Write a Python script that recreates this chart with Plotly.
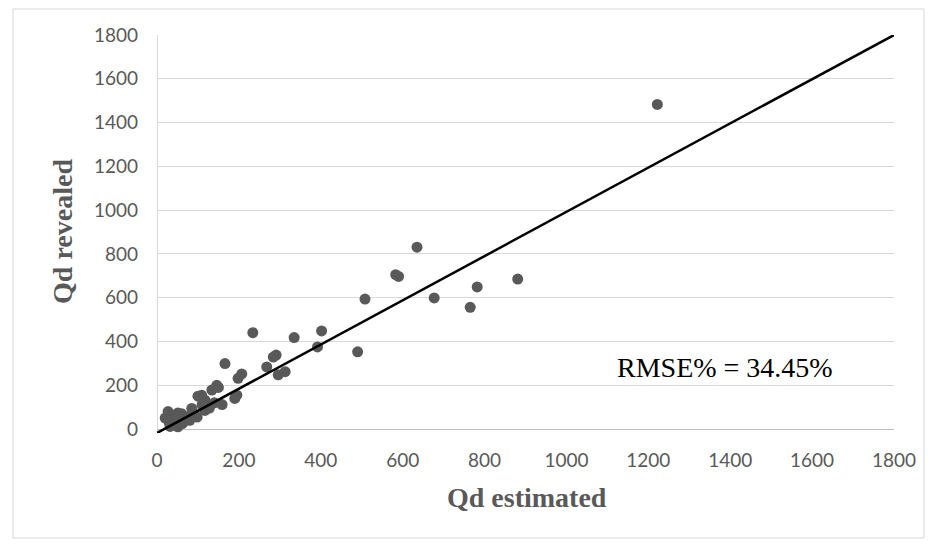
import plotly.graph_objects as go

# Data
qd_estimated = [1222, 635, 583, 590, 508, 490, 677, 782, 765, 881,
                402, 392, 335, 234, 291, 284, 296, 313, 268, 207,
                198, 166, 190, 195, 146, 134, 109, 159, 128, 117,
                100, 88, 98, 85, 117, 68, 51, 27, 20, 44,
                32, 51, 60, 40, 75, 140, 30, 62, 110, 150, 80, 45]
qd_revealed = [1483, 831, 705, 697, 594, 353, 599, 649, 556, 685,
               448, 375, 418, 440, 338, 329, 248, 262, 284, 252,
               232, 299, 140, 155, 200, 178, 155, 112, 96, 132,
               150, 75, 55, 94, 85, 50, 73, 80, 50, 33,
               12, 10, 70, 60, 55, 120, 30, 25, 110, 190, 40, 45]

line_x = [0, 1800]
line_y = [-18, 1800]

tick_vals = [0, 200, 400, 600, 800, 1000, 1200, 1400, 1600, 1800]
rmse_text = "RMSE% = 34.45%"
x_title = "Qd estimated"
y_title = "Qd revealed"

fig = go.Figure()
fig.add_trace(go.Scatter(
    x=qd_estimated, y=qd_revealed, mode="markers",
    marker=dict(size=11, color="#595959", line=dict(width=0)),
    showlegend=False, hoverinfo="x+y"))
fig.add_trace(go.Scatter(
    x=line_x, y=line_y, mode="lines",
    line=dict(color="#000000", width=2.5),
    showlegend=False, hoverinfo="skip"))

tick_font = dict(family="Lato, Open Sans, sans-serif", size=19, color="#595959")

fig.update_layout(
    width=931, height=536,
    margin=dict(l=149, r=45, t=27, b=111),
    paper_bgcolor="white", plot_bgcolor="white",
    xaxis=dict(range=[0, 1800], tickvals=tick_vals, showgrid=False,
               zeroline=True, zerolinecolor="#d9d9d9", zerolinewidth=1,
               showline=False, ticks="", tickfont=tick_font,
               ticklabelstandoff=14),
    yaxis=dict(range=[-18, 1800], tickvals=tick_vals, showgrid=True,
               gridcolor="#d9d9d9", gridwidth=1,
               zeroline=True, zerolinecolor="#bfbfbf", zerolinewidth=1,
               showline=False, ticks="", tickfont=tick_font,
               ticklabelstandoff=18),
    font=dict(family="Liberation Serif, serif"),
)

fig.add_annotation(x=1119, y=279, xref="x", yref="y", text=rmse_text,
                   showarrow=False, xanchor="left", yanchor="middle",
                   font=dict(family="Liberation Serif, serif", size=28, color="#000000"))
fig.add_annotation(x=0.502, y=-0.161, xref="paper", yref="paper",
                   text="<b>" + x_title + "</b>", showarrow=False,
                   xanchor="center", yanchor="middle",
                   font=dict(family="Liberation Serif, serif", size=28, color="#595959"))
fig.add_annotation(x=-0.129, y=0.5075, xref="paper", yref="paper",
                   text="<b>" + y_title + "</b>", showarrow=False, textangle=-90,
                   xanchor="center", yanchor="middle",
                   font=dict(family="Liberation Serif, serif", size=28, color="#595959"))

fig.add_shape(type="rect", xref="paper", yref="paper",
              x0=-0.1954, x1=1.0407, y0=-0.2638, y1=1.0653,
              line=dict(color="#d9d9d9", width=1), fillcolor="rgba(0,0,0,0)",
              layer="below")

fig.write_html("out.html")
